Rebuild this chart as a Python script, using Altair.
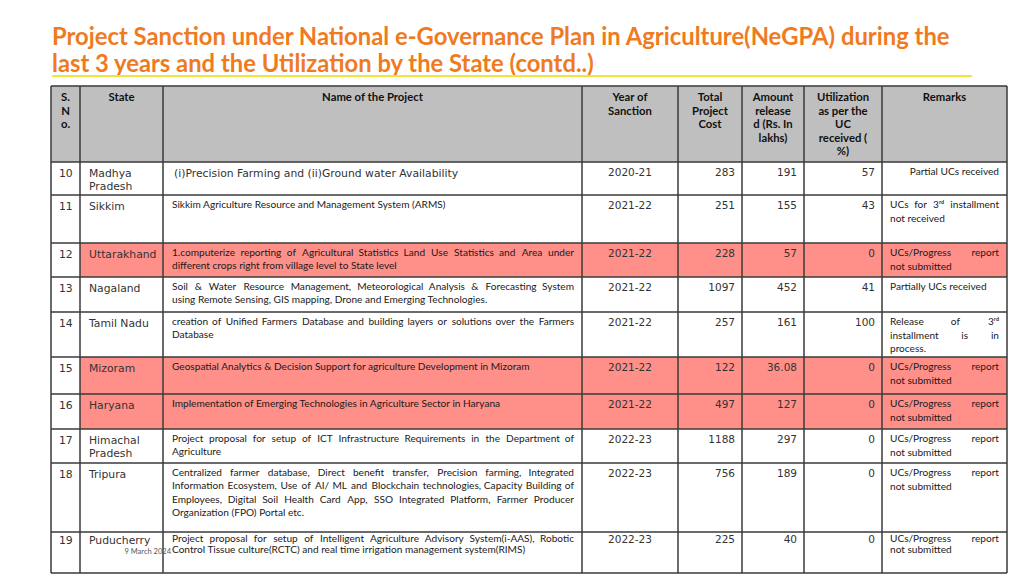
import altair as alt
import pandas as pd

# ---------------- data ----------------
title_lines = [
    "Project Sanction under National e-Governance Plan in Agriculture(NeGPA) during the",
    "last 3 years and the Utilization by the State (contd..)",
]
headers = ["S.\nN\no.", "State", "Name of the Project", "Year of\nSanction",
           "Total\nProject\nCost", "Amount\nrelease\nd (Rs. In\nlakhs)",
           "Utilization\nas per the\nUC\nreceived (\n%)", "Remarks"]
sno = [10, 11, 12, 13, 14, 15, 16, 17, 18, 19]
states = ["Madhya\nPradesh", "Sikkim", "Uttarakhand", "Nagaland", "Tamil Nadu",
          "Mizoram", "Haryana", "Himachal\nPradesh", "Tripura", "Puducherry"]
projects = [
    "(i)Precision Farming and (ii)Ground water  Availability",
    "Sikkim Agriculture Resource and Management System (ARMS)",
    "1.computerize reporting of Agricultural Statistics Land Use Statistics and Area under\n"
    "different crops right from village level to State level",
    "Soil & Water Resource Management, Meteorological Analysis & Forecasting System\n"
    "using Remote Sensing, GIS mapping, Drone and Emerging Technologies.",
    "creation of Unified Farmers Database and building layers or solutions over the Farmers\n"
    "Database",
    "Geospatial Analytics & Decision Support for agriculture Development in Mizoram",
    "Implementation of Emerging Technologies in Agriculture Sector in Haryana",
    "Project proposal for setup of ICT Infrastructure Requirements in the Department of\n"
    "Agriculture",
    "Centralized farmer database, Direct benefit transfer, Precision farming, Integrated\n"
    "Information Ecosystem, Use of AI/ ML and Blockchain technologies, Capacity Building of\n"
    "Employees, Digital Soil Health Card App, SSO Integrated Platform, Farmer Producer\n"
    "Organization (FPO) Portal etc.",
    "Project proposal for setup of  Intelligent Agriculture Advisory System(i-AAS), Robotic\n"
    "Control Tissue culture(RCTC) and real time irrigation management system(RIMS)",
]
years = ["2020-21", "2021-22", "2021-22", "2021-22", "2021-22",
         "2021-22", "2021-22", "2022-23", "2022-23", "2022-23"]
total_cost = [283, 251, 228, 1097, 257, 122, 497, 1188, 756, 225]
released = [191, 155, 57, 452, 161, 36.08, 127, 297, 189, 40]
utilization = [57, 43, 0, 41, 100, 0, 0, 0, 0, 0]
remarks = [
    "Partial UCs received",
    "UCs for 3\u02b3\u1d48 installment\nnot received",
    "UCs/Progress report\nnot submitted",
    "Partially UCs received",
    "Release of 3\u02b3\u1d48\ninstallment is in\nprocess.",
    "UCs/Progress report\nnot submitted",
    "UCs/Progress report\nnot submitted",
    "UCs/Progress report\nnot submitted",
    "UCs/Progress report\nnot submitted",
    "UCs/Progress report\nnot submitted",
]
highlighted = [False, False, True, False, False, True, True, False, False, False]
footer = "9 March 2024"

# ---------------- layout / style ----------------
COL = [51, 80, 163, 582, 678, 742, 804, 882, 1007]
ROW = [86, 162, 195, 243, 277, 312, 357, 394, 429, 463, 532, 573]
remark_align = ["right", "justify", "justify", "left", "justify",
                "justify", "justify", "justify", "justify", "justify"]
ORANGE = "#F07B1E"
GRAY = "#BFBFBF"
RED = "#FF8F89"
LINE = "#3a3a3a"
GOTHIC = "DejaVu Sans"
CALIBRI = "Lato"
BODY = 10.1

xs = alt.Scale(domain=[8, 1016], range=[0, 1008], zero=False, nice=False)
ys = alt.Scale(domain=[8, 576], range=[0, 568], zero=False, nice=False)
X = lambda f="x": alt.X(f"{f}:Q", scale=xs, axis=None)
Y = lambda f="y": alt.Y(f"{f}:Q", scale=ys, axis=None)

# rough Lato advance widths (em) used only to spread justified words
_W = dict(a=.49, b=.55, c=.45, d=.55, e=.51, f=.32, g=.49, h=.55, i=.23, j=.23, k=.49,
          l=.23, m=.83, n=.55, o=.55, p=.55, q=.55, r=.36, s=.42, t=.35, u=.55, v=.49,
          w=.75, x=.48, y=.49, z=.44)
_U = dict(A=.66, B=.62, C=.65, D=.72, E=.55, F=.53, G=.70, H=.73, I=.27, J=.38, K=.64,
          L=.49, M=.88, N=.73, O=.77, P=.58, Q=.77, R=.61, S=.52, T=.56, U=.70, V=.66,
          W=1.0, X=.63, Y=.61, Z=.59)
_P = {".": .22, ",": .22, "(": .30, ")": .30, "/": .36, "-": .35, "&": .68,
      "\u02b3": .25, "\u1d48": .33}


def word_w(wd, size):
    tot = 0
    for ch in wd:
        if ch in _W:
            tot += _W[ch]
        elif ch in _U:
            tot += _U[ch]
        elif ch.isdigit():
            tot += .58
        else:
            tot += _P.get(ch, .5)
    return tot * size


def justify(text, x0, x1, y, lh, size, last_align="left"):
    left, right = [], []
    lns = text.split("\n")
    for k, ln in enumerate(lns):
        yy = y + lh * k
        words = ln.split()
        if k < len(lns) - 1 and len(words) > 1:
            w = [word_w(wd, size) for wd in words]
            gap = (x1 - x0 - sum(w)) / (len(words) - 1)
            pos = x0
            for j, wd in enumerate(words):
                if j == len(words) - 1:
                    right.append(dict(x=x1, y=yy, t=wd))
                else:
                    left.append(dict(x=pos, y=yy, t=wd))
                pos += w[j] + gap
        elif last_align == "right":
            right.append(dict(x=x1, y=yy, t=ln))
        else:
            left.append(dict(x=x0, y=yy, t=ln))
    return left, right


# fills
fills = [dict(x=COL[0], x2=COL[-1], y=ROW[0], y2=ROW[1], c=GRAY)]
for i, h in enumerate(highlighted):
    if h:
        fills.append(dict(x=COL[1], x2=COL[-1], y=ROW[i + 1], y2=ROW[i + 2], c=RED))
fill_layer = alt.Chart(pd.DataFrame(fills)).mark_rect().encode(
    x=X(), x2="x2:Q", y=Y(), y2="y2:Q", color=alt.Color("c:N", scale=None))

# grid lines
lines = [dict(x=c, x2=c, y=ROW[0], y2=ROW[-1]) for c in COL]
lines += [dict(x=COL[0], x2=COL[-1], y=r, y2=r) for r in ROW]
grid_layer = alt.Chart(pd.DataFrame(lines)).mark_rule(
    color=LINE, strokeWidth=1.5).encode(x=X(), x2="x2:Q", y=Y(), y2="y2:Q")

layers = [fill_layer, grid_layer]


def text_layer(rows, font, size, align, weight="normal", color="#222",
               line_height=13.5, baseline="top"):
    return alt.Chart(pd.DataFrame(rows)).mark_text(
        font=font, fontSize=size, align=align, baseline=baseline,
        fontWeight=weight, color=color, lineBreak="\n", lineHeight=line_height
    ).encode(x=X(), y=Y(), text="t:N")


# title
layers.append(text_layer(
    [dict(x=52, y=38 + 27 * i, t=t) for i, t in enumerate(title_lines)],
    CALIBRI, 23.8, "left", weight="bold", color=ORANGE, baseline="middle"))
layers.append(alt.Chart(pd.DataFrame([dict(x=52, x2=972, y=76)])).mark_rule(
    color="#F3E33E", strokeWidth=2).encode(x=X(), x2="x2:Q", y=Y()))

# header
hx = [(COL[i] + COL[i + 1]) / 2 for i in range(len(COL) - 1)]
layers.append(text_layer(
    [dict(x=hx[i], y=ROW[0] + 6, t=h) for i, h in enumerate(headers)],
    CALIBRI, 11.3, "center", weight="bold", color="#111", line_height=13.6))

tops = [ROW[i + 1] + 6 for i in range(len(sno))]
tops[-1] = ROW[10] + 3
lhs = [13.4] * len(sno)
lhs[-1] = 11.3
fmt = lambda v: f"{v:g}"

layers.append(text_layer([dict(x=59, y=tops[i], t=str(s)) for i, s in enumerate(sno)],
                         GOTHIC, 10.8, "left", color="#333", line_height=13))
layers.append(text_layer([dict(x=89, y=tops[i], t=s) for i, s in enumerate(states)],
                         GOTHIC, 10.8, "left", color="#333", line_height=13))
layers.append(text_layer([dict(x=174, y=tops[0], t=projects[0])],
                         GOTHIC, 10.8, "left", color="#333"))

proj_left, proj_right = [], []
for i, p in enumerate(projects):
    if i == 0:
        continue
    l, r = justify(p, 172, 574, tops[i] - 1, lhs[i], BODY)
    proj_left += l
    proj_right += r
layers.append(text_layer(proj_left, CALIBRI, BODY, "left", color="#1a1a1a"))
layers.append(text_layer(proj_right, CALIBRI, BODY, "right", color="#1a1a1a"))

layers.append(text_layer([dict(x=hx[3], y=tops[i], t=v) for i, v in enumerate(years)],
                         GOTHIC, 10.5, "center", color="#333"))
layers.append(text_layer([dict(x=COL[5] - 7, y=tops[i], t=fmt(v)) for i, v in enumerate(total_cost)],
                         GOTHIC, 10.5, "right", color="#333"))
layers.append(text_layer([dict(x=COL[6] - 7, y=tops[i], t=fmt(v)) for i, v in enumerate(released)],
                         GOTHIC, 10.5, "right", color="#333"))
layers.append(text_layer([dict(x=COL[7] - 7, y=tops[i], t=fmt(v)) for i, v in enumerate(utilization)],
                         GOTHIC, 10.5, "right", color="#333"))

# remarks
RX0, RX1 = COL[7] + 8, COL[8] - 8
rem_left, rem_right = [], []
for i, (r, al) in enumerate(zip(remarks, remark_align)):
    lh = 13.5 if i < len(sno) - 1 else 11.3
    if al == "right":
        l, rr = justify(r, RX0, RX1, tops[i] - 1, lh, BODY, last_align="right")
    elif al == "justify":
        l, rr = justify(r, RX0, RX1, tops[i] - 1, lh, BODY)
    else:
        l, rr = [dict(x=RX0, y=tops[i] - 1, t=r)], []
    rem_left += l
    rem_right += rr
layers.append(text_layer(rem_left, CALIBRI, BODY, "left", color="#1a1a1a"))
layers.append(text_layer(rem_right, CALIBRI, BODY, "right", color="#1a1a1a"))

# footer
layers.append(text_layer([dict(x=171, y=552, t=footer)], CALIBRI, 7.5, "right",
                         color="#555", baseline="middle"))

chart = alt.layer(*layers).properties(
    width=1008, height=568, padding=0, autosize=alt.AutoSizeParams(type="none"),
    background="white"
).configure_view(stroke=None)

chart.save("out.html", embed_options={"renderer": "svg", "actions": False})
